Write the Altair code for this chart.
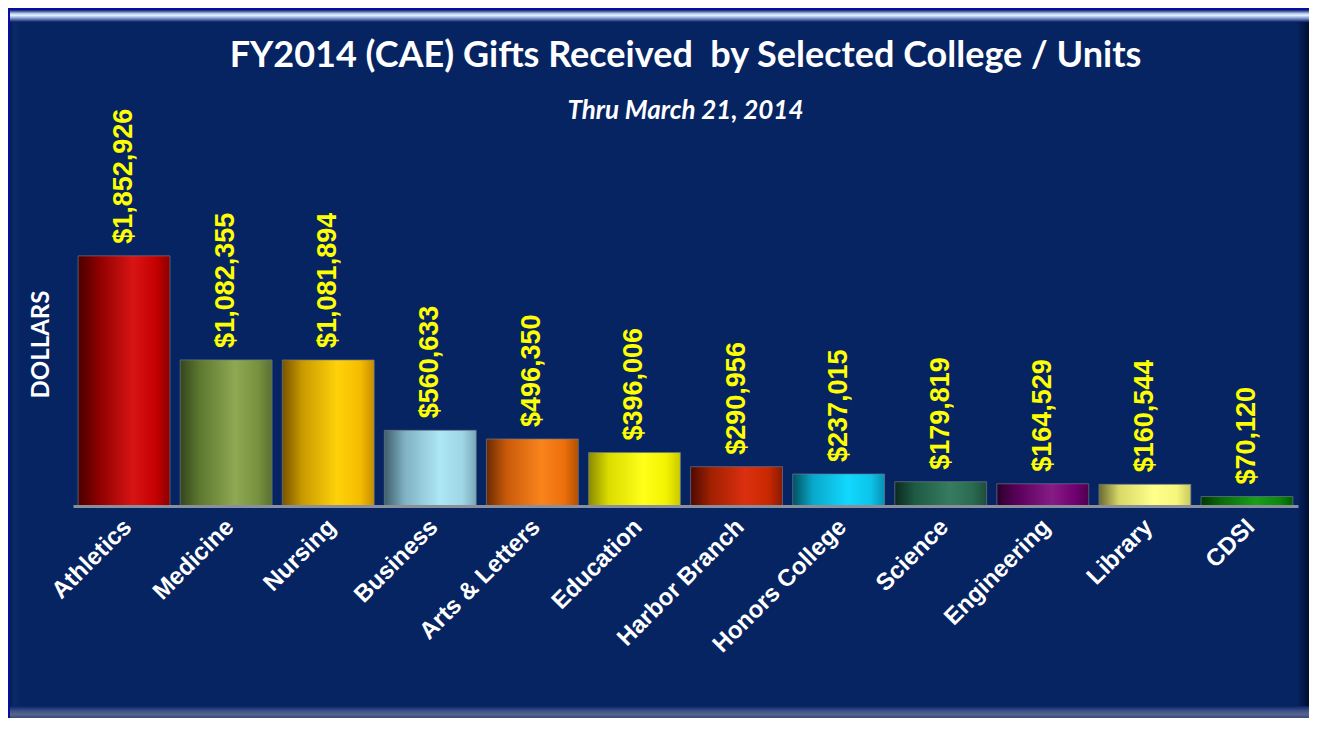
import altair as alt
import pandas as pd

units = ["Athletics", "Medicine", "Nursing", "Business", "Arts & Letters", "Education",
         "Harbor Branch", "Honors College", "Science", "Engineering", "Library", "CDSI"]
gifts = [1852926, 1082355, 1081894, 560633, 496350, 396006,
         290956, 237015, 179819, 164529, 160544, 70120]

# bar shading (style only): dark edge -> highlight -> edge
shades = {
    "Athletics":      ["#4a0000", "#8c0000", "#d91414", "#c40000", "#8a0000"],
    "Medicine":       ["#34461c", "#5e7a30", "#8fa852", "#76913f", "#5a7030"],
    "Nursing":        ["#7a5400", "#c99a00", "#ffd20a", "#f5bc00", "#c58f00"],
    "Business":       ["#3f5e6a", "#7fb1c2", "#ade6f5", "#9ed6e6", "#7aa8b8"],
    "Arts & Letters": ["#6b2a00", "#c95a0a", "#fa841c", "#ec6e0c", "#b05000"],
    "Education":      ["#8a8a00", "#dcdc00", "#ffff1a", "#f2f200", "#c8c800"],
    "Harbor Branch":  ["#4d0a00", "#a02000", "#dc3010", "#c82800", "#8a1800"],
    "Honors College": ["#045060", "#08a8c8", "#12d8ff", "#0cc4ea", "#0890b0"],
    "Science":        ["#0c2a20", "#1e5a44", "#367c60", "#2a6a50", "#1e4c3a"],
    "Engineering":    ["#2a002a", "#5a005a", "#861c86", "#700070", "#4e004e"],
    "Library":        ["#6a6830", "#d8d868", "#ffff8a", "#f6f67a", "#c8c860"],
    "CDSI":           ["#003800", "#0c6a0c", "#18a018", "#0e880e", "#006000"],
}
offsets = [0.0, 0.22, 0.6, 0.85, 1.0]

NAVY = "#062462"
W, H = 1225, 324
PL, PR, PT, PB = 65, 11, 174, 212

df = pd.DataFrame({"unit": units, "gifts": gifts})

x_enc = alt.X(
    "unit:N",
    sort=units,
    title=None,
    scale=alt.Scale(domain=units, paddingInner=0.1, paddingOuter=0.05),
    axis=alt.Axis(
        labelAngle=-45, labelAlign="right", labelBaseline="middle",
        labelFont="Liberation Sans", labelFontSize=24, labelFontWeight="bold",
        labelColor="white", labelPadding=17, labelOffset=4, labelLimit=400,
        labelOverlap=False, ticks=False, domainColor="#8a8f9e", domainWidth=3,
        grid=False, zindex=1,
    ),
)
y_enc = alt.Y(
    "gifts:Q",
    title="DOLLARS",
    scale=alt.Scale(domain=[0, 2400000], nice=False),
    axis=alt.Axis(
        labels=False, ticks=False, domain=False, grid=False,
        titleFont="Lato", titleFontSize=24, titleFontWeight="bold",
        titleColor="white", titlePadding=20,
    ),
)


def grad(colors, offs, horizontal=True):
    g = {"gradient": "linear", "x1": 0, "x2": 1 if horizontal else 0,
         "y1": 0, "y2": 0 if horizontal else 1,
         "stops": [{"offset": o, "color": c} for o, c in zip(offs, colors)]}
    return g


# decorative bevelled frame (positions relative to plot origin)
frame_src = alt.Chart(alt.Data(values=[{}]))
fx0, fx1 = -PL, W + PR
fy0, fy1 = -PT, H + PB
bevel = 12
frame_layers = [
    frame_src.mark_rect(color=grad([NAVY, "#b8cdf5", "#e8f0ff", "#7d96cc", NAVY],
                                   [0, 0.3, 0.45, 0.7, 1], horizontal=False)).encode(
        x=alt.value(fx0), x2=alt.value(fx1), y=alt.value(fy0 + 2), y2=alt.value(fy0 + 2 + bevel)),
    frame_src.mark_rect(color=grad(["#031645", "#0a2a6a", NAVY], [0, 0.5, 1])).encode(
        x=alt.value(fx0), x2=alt.value(fx0 + bevel), y=alt.value(fy0 + 2 + bevel), y2=alt.value(fy1 - bevel)),
    frame_src.mark_rect(color=grad([NAVY, "#04184a", "#020f30"], [0, 0.5, 1])).encode(
        x=alt.value(fx1 - bevel), x2=alt.value(fx1), y=alt.value(fy0 + 2 + bevel), y2=alt.value(fy1 - bevel)),
    frame_src.mark_rect(color=grad([NAVY, "#3e5088", "#55658f", "#3a4a78"],
                                   [0, 0.4, 0.7, 1], horizontal=False)).encode(
        x=alt.value(fx0), x2=alt.value(fx1), y=alt.value(fy1 - bevel), y2=alt.value(fy1)),
    frame_src.mark_rect(color="#0c0ca0").encode(
        x=alt.value(fx0), x2=alt.value(fx1), y=alt.value(fy0), y2=alt.value(fy0 + 2)),
    frame_src.mark_rect(color="#0c0ca0").encode(
        x=alt.value(fx0), x2=alt.value(fx0 + 2), y=alt.value(fy0), y2=alt.value(fy1)),
]

base = alt.Chart(df)
bar_layers = []
for u in units:
    bar_layers.append(
        base.transform_filter(alt.datum.unit == u)
        .mark_bar(color=grad(shades[u], offsets), stroke="#6b7790",
                  strokeWidth=1, strokeOpacity=0.7)
        .encode(x=x_enc, y=y_enc)
    )

labels = base.mark_text(
    angle=270, align="left", baseline="middle", dx=12,
    font="Liberation Sans", fontSize=27, fontWeight="bold", color="#ffff00",
).encode(x=x_enc, y=y_enc, text=alt.Text("gifts:Q", format="$,.0f"))

chart = alt.layer(*frame_layers, *bar_layers, labels).properties(
    width=W,
    height=H,
    autosize=alt.AutoSizeParams(type="none"),
    padding={"left": PL, "right": PR, "top": PT, "bottom": PB},
    background=NAVY,
    title=alt.TitleParams(
        text="FY2014 (CAE) Gifts Received\u00a0 by Selected College / Units",
        subtitle="Thru March 21, 2014",
        font="Lato", fontSize=36, fontWeight="bold", color="white",
        subtitleFont="Lato", subtitleFontSize=26, subtitleFontStyle="italic",
        subtitleFontWeight="bold", subtitleColor="white", subtitlePadding=23,
        anchor="middle", offset=-117,
    ),
).configure_view(strokeWidth=0)

chart.save("out.html", embed_options={"renderer": "svg", "actions": False})
